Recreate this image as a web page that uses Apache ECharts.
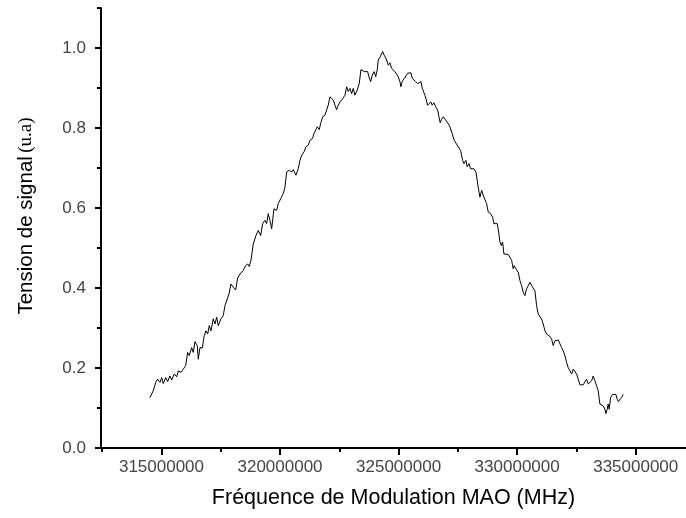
<!DOCTYPE html>
<html><head><meta charset="utf-8">
<script src="https://cdn.jsdelivr.net/npm/echarts@6/dist/echarts.min.js"></script>
<style>html,body{margin:0;padding:0;background:#fff}#c{width:686px;height:518px}</style>
</head><body><div id="c"></div>
<script>
const freq = [
314.515e6,314.654e6,314.755e6,314.840e6,314.937e6,315.008e6,315.076e6,315.177e6,315.261e6,315.358e6,
315.430e6,315.540e6,315.641e6,315.708e6,315.822e6,315.919e6,316.020e6,316.105e6,316.172e6,316.273e6,
316.341e6,316.413e6,316.510e6,316.552e6,316.623e6,316.720e6,316.805e6,316.876e6,316.948e6,317.016e6,
317.087e6,317.184e6,317.256e6,317.328e6,317.395e6,317.509e6,317.606e6,317.678e6,317.749e6,317.846e6,
317.930e6,318.027e6,318.129e6,318.213e6,318.310e6,318.382e6,318.449e6,318.550e6,318.635e6,318.702e6,
318.774e6,318.871e6,318.985e6,319.082e6,319.183e6,319.267e6,319.364e6,319.436e6,319.503e6,319.575e6,
319.647e6,319.744e6,319.857e6,319.925e6,320.026e6,320.136e6,320.207e6,320.279e6,320.389e6,320.490e6,
320.557e6,320.671e6,320.768e6,320.840e6,320.912e6,321.009e6,321.093e6,321.190e6,321.262e6,321.375e6,
321.430e6,321.514e6,321.569e6,321.654e6,321.713e6,321.797e6,321.894e6,321.966e6,322.033e6,322.105e6,
322.177e6,322.244e6,322.316e6,322.387e6,322.455e6,322.526e6,322.640e6,322.737e6,322.809e6,322.876e6,
322.948e6,323.020e6,323.087e6,323.159e6,323.256e6,323.340e6,323.412e6,323.467e6,323.551e6,323.623e6,
323.694e6,323.749e6,323.821e6,323.889e6,323.973e6,324.032e6,324.099e6,324.142e6,324.226e6,324.327e6,
324.394e6,324.496e6,324.563e6,324.635e6,324.706e6,324.774e6,324.846e6,324.917e6,324.985e6,325.056e6,
325.098e6,325.153e6,325.238e6,325.297e6,325.381e6,325.449e6,325.520e6,325.575e6,325.659e6,325.718e6,
325.803e6,325.858e6,325.942e6,325.997e6,326.039e6,326.111e6,326.153e6,326.224e6,326.279e6,326.363e6,
326.418e6,326.490e6,326.562e6,326.646e6,326.701e6,326.756e6,326.815e6,326.882e6,326.954e6,327.026e6,
327.093e6,327.165e6,327.262e6,327.346e6,327.616e6,327.700e6,327.755e6,327.839e6,327.894e6,327.966e6,
328.038e6,328.105e6,328.177e6,328.261e6,328.358e6,328.430e6,328.502e6,328.544e6,328.598e6,328.653e6,
328.712e6,328.780e6,328.881e6,328.965e6,329.020e6,329.104e6,329.159e6,329.218e6,329.273e6,329.328e6,
329.387e6,329.442e6,329.526e6,329.623e6,329.695e6,329.766e6,329.834e6,329.876e6,329.948e6,330.045e6,
330.116e6,330.188e6,330.255e6,330.327e6,330.399e6,330.466e6,330.538e6,330.610e6,330.677e6,330.749e6,
330.820e6,330.888e6,330.959e6,331.031e6,331.099e6,331.171e6,331.242e6,331.310e6,331.382e6,331.453e6,
331.521e6,331.592e6,331.664e6,331.731e6,331.803e6,331.875e6,331.942e6,332.014e6,332.085e6,332.153e6,
332.224e6,332.296e6,332.363e6,332.435e6,332.507e6,332.574e6,332.646e6,332.718e6,332.785e6,332.857e6,
332.928e6,332.996e6,333.067e6,333.139e6,333.207e6,333.278e6,333.350e6,333.417e6,333.489e6,333.561e6,
333.628e6,333.700e6,333.742e6,333.797e6,333.839e6,333.881e6,333.940e6,334.024e6,334.079e6,334.164e6,
334.218e6,334.268e6,334.332e6,334.404e6,334.471e6
];
const signal = [
0.126,0.143,0.164,0.172,0.164,0.176,0.161,0.176,0.166,0.180,
0.170,0.185,0.178,0.193,0.189,0.197,0.206,0.239,0.231,0.251,
0.239,0.266,0.256,0.222,0.251,0.250,0.281,0.293,0.285,0.306,
0.293,0.323,0.310,0.327,0.306,0.323,0.331,0.356,0.360,0.385,
0.410,0.402,0.395,0.425,0.435,0.431,0.444,0.456,0.460,0.454,
0.469,0.510,0.531,0.544,0.531,0.561,0.569,0.561,0.586,0.569,
0.548,0.598,0.594,0.611,0.623,0.636,0.652,0.690,0.694,0.690,
0.696,0.682,0.698,0.719,0.732,0.740,0.753,0.757,0.769,0.774,
0.786,0.796,0.803,0.796,0.811,0.828,0.832,0.836,0.857,0.878,
0.880,0.870,0.857,0.846,0.857,0.865,0.873,0.882,0.903,0.891,
0.899,0.886,0.899,0.882,0.895,0.911,0.946,0.941,0.941,0.937,
0.941,0.928,0.916,0.932,0.941,0.928,0.945,0.970,0.978,0.991,
0.982,0.970,0.957,0.963,0.949,0.953,0.941,0.943,0.928,0.916,
0.903,0.916,0.924,0.920,0.937,0.932,0.938,0.924,0.928,0.916,
0.911,0.913,0.916,0.899,0.895,0.882,0.873,0.857,0.853,0.865,
0.857,0.863,0.853,0.845,0.828,0.813,0.822,0.828,0.822,0.825,
0.811,0.803,0.786,0.769,0.744,0.719,0.711,0.719,0.703,0.711,
0.698,0.703,0.698,0.690,0.652,0.627,0.644,0.648,0.627,0.629,
0.611,0.590,0.586,0.577,0.561,0.556,0.561,0.540,0.515,0.506,
0.515,0.485,0.481,0.484,0.484,0.469,0.448,0.456,0.448,0.439,
0.419,0.406,0.389,0.381,0.398,0.393,0.414,0.406,0.410,0.393,
0.356,0.335,0.333,0.322,0.310,0.293,0.285,0.286,0.279,0.272,
0.256,0.268,0.264,0.270,0.268,0.251,0.243,0.231,0.214,0.201,
0.193,0.185,0.197,0.201,0.185,0.172,0.158,0.161,0.158,0.161,
0.172,0.160,0.158,0.168,0.180,0.168,0.155,0.143,0.110,0.105,
0.105,0.097,0.086,0.097,0.110,0.097,0.126,0.134,0.130,0.134,
0.122,0.116,0.118,0.126,0.134
];
const xMajorTicks = [315e6, 320e6, 325e6, 330e6, 335e6];
const xMinorTicks = [312.5e6, 317.5e6, 322.5e6, 327.5e6, 332.5e6];
const yMajorTicks = [0, 0.2, 0.4, 0.6, 0.8, 1.0];
const yMinorTicks = [0.1, 0.3, 0.5, 0.7, 0.9, 1.1];
const xRange = [312.45e6, 337.12e6];
const yRange = [0, 1.1];
const xTitle = 'Fréquence de Modulation MAO (MHz)';
const yTitle = 'Tension de signal';
const yUnit = '(u.a)';

const FONT = '"Liberation Sans", Arial, sans-serif';
const data = freq.map((f, i) => [f, signal[i]]);
const chart = echarts.init(document.getElementById('c'), null, {renderer: 'canvas'});
const hidden = {show: false};
chart.setOption({
  animation: false,
  backgroundColor: '#fff',
  grid: {left: 101, right: 0, top: 8, bottom: 70, containLabel: false},
  xAxis: [{
    type: 'value', min: xRange[0], max: xRange[1],
    axisLine: {show: true, onZero: false, lineStyle: {color: '#000', width: 2}},
    axisTick: {show: true, customValues: xMajorTicks, length: 7, lineStyle: {color: '#000', width: 2}},
    axisLabel: {show: true, customValues: xMajorTicks, formatter: v => String(v), fontSize: 17, fontFamily: FONT, color: '#444', margin: 11},
    splitLine: hidden,
    name: xTitle, nameLocation: 'middle', nameGap: 39,
    nameTextStyle: {fontSize: 21.5, fontFamily: FONT, color: '#000'}
  }, {
    type: 'value', min: xRange[0], max: xRange[1], position: 'bottom',
    axisLine: hidden,
    axisTick: {show: true, customValues: xMinorTicks, length: 4, lineStyle: {color: '#000', width: 2}},
    axisLabel: hidden, splitLine: hidden
  }],
  yAxis: [{
    type: 'value', min: yRange[0], max: yRange[1],
    axisLine: {show: true, onZero: false, lineStyle: {color: '#000', width: 2}},
    axisTick: {show: true, customValues: yMajorTicks, length: 6, lineStyle: {color: '#000', width: 2}},
    axisLabel: {show: true, customValues: yMajorTicks, formatter: v => v.toFixed(1), fontSize: 17, fontFamily: FONT, color: '#444', margin: 15},
    splitLine: hidden,
    name: '{a|' + yTitle + '} {b|' + yUnit + '}', nameLocation: 'middle', nameGap: 64, nameRotate: 90,
    nameTextStyle: {
      color: '#000',
      padding: [0, 0, 0, 24],
      rich: {
        a: {fontSize: 20.5, fontFamily: FONT, color: '#000'},
        b: {fontSize: 19, fontFamily: '"Liberation Serif", "Times New Roman", serif', color: '#000'}
      }
    }
  }, {
    type: 'value', min: yRange[0], max: yRange[1], position: 'left',
    axisLine: hidden,
    axisTick: {show: true, customValues: yMinorTicks, length: 4, lineStyle: {color: '#000', width: 2}},
    axisLabel: hidden, splitLine: hidden
  }],
  series: [{
    type: 'line', xAxisIndex: 0, yAxisIndex: 0, data: data,
    showSymbol: false, symbol: 'none',
    lineStyle: {color: '#000', width: 1},
    z: 3
  }]
});
</script>
</body></html>
